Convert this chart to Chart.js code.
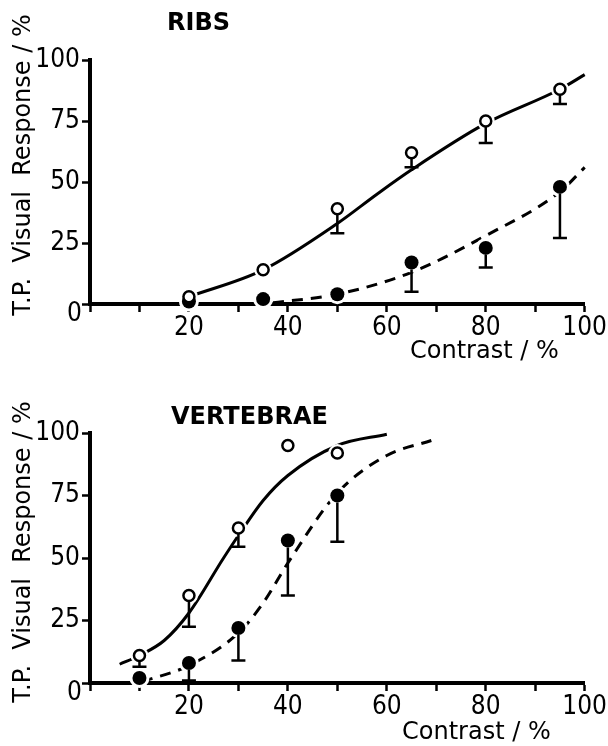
<!DOCTYPE html>
<html>
<head>
<meta charset="utf-8">
<script src="https://cdn.jsdelivr.net/npm/chart.js@4.4.0/dist/chart.umd.min.js"></script>
<style>
  body { margin: 0; background: #fff; width: 608px; height: 746px; overflow: hidden; }
  canvas { position: absolute; left: 0; }
  #ribs { top: 0; }
  #vert { top: 372px; }
</style>
</head>
<body>
<canvas id="ribs" width="608" height="372"></canvas>
<canvas id="vert" width="608" height="374"></canvas>
<script>
// RIBS data
const ribsContrast = [20, 35, 50, 65, 80, 95]
const ribsOpen = [3, 14, 39, 62, 75, 88]
const ribsOpenLow = [null, null, 29, 56, 66, 82]
const ribsFilled = [1, 2, 4, 17, 23, 48]
const ribsFilledLow = [null, null, null, 5, 15, 27]
const ribsFitOpenX = [20, 35, 50, 58, 65, 80, 95, 100]
const ribsFitOpenY = [3, 14, 33, 45, 55, 74, 88, 94]
const ribsFitFilledX = [37, 50, 65, 80, 95, 100]
const ribsFitFilledY = [0.5, 4, 13, 28, 46, 56]

// VERTEBRAE data
const vertContrast = [10, 20, 30, 40, 50]
const vertOpen = [11, 35, 62, 95, 92]
const vertOpenLow = [6.5, 22.5, 54.5, null, null]
const vertFilled = [2, 8, 22, 57, 75]
const vertFilledLow = [null, 1, 9, 35, 56.5]
const vertFitOpenX = [6, 10, 15, 20, 27, 30, 35, 40, 50, 60]
const vertFitOpenY = [7.5, 11, 17, 28, 50, 59, 73, 83, 95, 99.5]
const vertFitFilledX = [10.5, 20, 30, 35, 40, 50, 60, 69]
const vertFitFilledY = [0.5, 7, 20, 32, 48, 76, 91, 97]

const xTicks = [20, 40, 60, 80, 100]
const yTicks = [25, 50, 75, 100]   // "0" is drawn a bit lower, by the texts plugin

function zip(xs, ys) {
  return xs.map((x, i) => ({ x: x, y: ys[i] }))
}

// error bars hang down from the bottom of the marker to the low value, with a cap
const errorBars = {
  id: 'errorBars',
  afterDatasetsDraw(chart) {
    const ctx = chart.ctx
    const yScale = chart.scales.y
    chart.data.datasets.forEach((ds, i) => {
      if (!ds.low) return
      chart.getDatasetMeta(i).data.forEach((pt, j) => {
        const lo = ds.low[j]
        if (lo == null) return
        const yLo = yScale.getPixelForValue(lo)
        ctx.save()
        ctx.strokeStyle = '#000'
        ctx.lineWidth = 2.5
        ctx.beginPath()
        ctx.moveTo(pt.x, pt.y + ds.pointRadius)
        ctx.lineTo(pt.x, yLo)
        ctx.moveTo(pt.x - 7, yLo)
        ctx.lineTo(pt.x + 7, yLo)
        ctx.stroke()
        ctx.restore()
      })
    })
  }
}

const texts = {
  id: 'texts',
  afterDraw(chart, args, o) {
    const ctx = chart.ctx
    ctx.save()
    ctx.fillStyle = '#000'
    ctx.textBaseline = 'middle'
    ctx.textAlign = 'right'
    ctx.font = '26px "DejaVu Sans Condensed"'
    ctx.fillText('0', chart.chartArea.left - 8, chart.scales.y.getPixelForValue(0) + 10)
    ctx.textAlign = 'left'
    ctx.font = 'bold 24px "DejaVu Sans"'
    ctx.fillText(o.title, o.titleX, o.titleY)
    ctx.font = '24px "DejaVu Sans"'
    ctx.fillText('Contrast / %', o.xTitleX, o.xTitleY)
    ctx.translate(o.yTitleX, o.yTitleY)
    ctx.rotate(-Math.PI / 2)
    ctx.textAlign = 'center'
    ctx.fillText('T.P.  Visual  Response / %', 0, 0)
    ctx.restore()
  }
}

function makeChart(el, d, xHeight, top, txt) {
  const tickFont = { family: 'DejaVu Sans Condensed', size: 26 }
  const openPts = zip(d.x, d.open)
  const filledPts = zip(d.x, d.filled)
  return new Chart(el, {
    type: 'scatter',
    data: {
      datasets: [
        {
          data: openPts, low: d.openLow, clip: false,
          pointRadius: 5.5, pointBackgroundColor: '#fff',
          pointBorderColor: '#000', pointBorderWidth: 2.5
        },
        {
          data: filledPts, low: d.filledLow, clip: false,
          pointRadius: 7, pointBackgroundColor: '#000',
          pointBorderColor: '#000', pointBorderWidth: 0
        },
        // white halos, so lines break round the markers as in the print
        {
          data: openPts, clip: false, pointRadius: 9,
          pointBackgroundColor: '#fff', pointBorderWidth: 0
        },
        {
          data: filledPts, clip: false, pointRadius: 10,
          pointBackgroundColor: '#fff', pointBorderWidth: 0
        },
        {
          data: zip(d.fitOpenX, d.fitOpenY), showLine: true, clip: false,
          pointRadius: 0, borderColor: '#000', borderWidth: 3,
          cubicInterpolationMode: 'monotone'
        },
        {
          data: zip(d.fitFilledX, d.fitFilledY), showLine: true, clip: false,
          pointRadius: 0, borderColor: '#000', borderWidth: 3,
          borderDash: [11, 8], cubicInterpolationMode: 'monotone'
        }
      ]
    },
    options: {
      responsive: false,
      animation: false,
      devicePixelRatio: 1,
      layout: { padding: { top: top, right: 21, left: 0, bottom: 0 } },
      plugins: {
        legend: { display: false },
        tooltip: { enabled: false },
        texts: txt
      },
      scales: {
        x: {
          type: 'linear', min: 0, max: 100,
          border: { color: '#000', width: 4 },
          grid: { drawOnChartArea: false, drawTicks: true, tickLength: 8, tickWidth: 2.5, tickColor: '#000' },
          ticks: {
            stepSize: 10, autoSkip: false, maxRotation: 0, minRotation: 0,
            color: '#000', font: tickFont, padding: 1,
            callback: v => xTicks.includes(v) ? v : ''
          },
          afterFit: s => { s.height = xHeight }
        },
        y: {
          type: 'linear', min: 0, max: 100,
          border: { color: '#000', width: 4 },
          grid: { drawOnChartArea: false, drawTicks: true, tickLength: 8, tickWidth: 2.5, tickColor: '#000' },
          ticks: {
            stepSize: 25, autoSkip: false, color: '#000', font: tickFont, padding: 2,
            callback: v => yTicks.includes(v) ? v : ''
          },
          afterFit: s => { s.width = 90 }
        }
      }
    },
    plugins: [errorBars, texts]
  })
}

makeChart(document.getElementById('ribs'), {
  x: ribsContrast, open: ribsOpen, openLow: ribsOpenLow,
  filled: ribsFilled, filledLow: ribsFilledLow,
  fitOpenX: ribsFitOpenX, fitOpenY: ribsFitOpenY,
  fitFilledX: ribsFitFilledX, fitFilledY: ribsFitFilledY
}, 68, 60, { title: 'RIBS', titleX: 167, titleY: 24, xTitleX: 410, xTitleY: 352, yTitleX: 24, yTitleY: 165 })

makeChart(document.getElementById('vert'), {
  x: vertContrast, open: vertOpen, openLow: vertOpenLow,
  filled: vertFilled, filledLow: vertFilledLow,
  fitOpenX: vertFitOpenX, fitOpenY: vertFitOpenY,
  fitFilledX: vertFitFilledX, fitFilledY: vertFitFilledY
}, 63, 61, { title: 'VERTEBRAE', titleX: 171, titleY: 46, xTitleX: 402, xTitleY: 361, yTitleX: 24, yTitleY: 180 })
</script>
</body>
</html>
